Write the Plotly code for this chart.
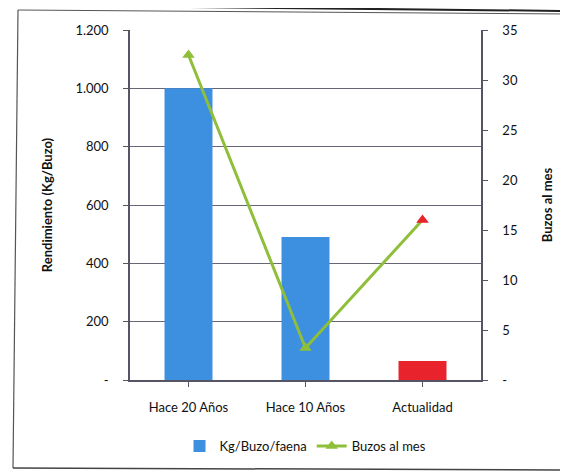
import plotly.graph_objects as go

categories = ["Hace 20 Años", "Hace 10 Años", "Actualidad"]
kg_buzo = [1000, 490, 65]
buzos_mes = [32.5, 3.2, 16]
bar_colors = ["#3d8fe0", "#3d8fe0", "#e8232b"]
left_ticks = [0, 200, 400, 600, 800, 1000, 1200]
left_labels = ["-", "200", "400", "600", "800", "1.000", "1.200"]
right_ticks = [0, 5, 10, 15, 20, 25, 30, 35]
right_labels = ["-", "5", "10", "15", "20", "25", "30", "35"]

font = "Lato, 'Open Sans', sans-serif"

fig = go.Figure()
fig.add_trace(go.Bar(
    x=categories, y=kg_buzo, name="Kg/Buzo/faena",
    marker=dict(color=bar_colors, line=dict(width=0)),
    width=0.41, yaxis="y",
))
fig.add_trace(go.Scatter(
    x=categories, y=buzos_mes, name="Buzos al mes", yaxis="y2",
    mode="lines+markers",
    line=dict(color="#8fbf3a", width=3),
    marker=dict(symbol="triangle-up", size=11,
                color=["#8fbf3a", "#8fbf3a", "#e8232b"]),
))

OFFX, OFFY = 8, 8  # page offset of the plot div
W, H = 568 - OFFX, 476 - OFFY
# plot area in screen coordinates
SL, SR, ST, SB = 130, 481, 30, 380
L, T = SL - OFFX, ST - OFFY
R = W - (SR - OFFX)
B = H - (SB - OFFY)
pw, ph = W - L - R, H - T - B

def px(x):
    return (x - OFFX - L) / pw

def py(y):
    return (H - B - (y - OFFY)) / ph

fig.update_layout(
    width=W, height=H,
    margin=dict(l=L, r=R, t=T, b=B, autoexpand=False),
    paper_bgcolor="white", plot_bgcolor="white",
    font=dict(family=font, size=13, color="#111111"),
    showlegend=True,
    legend=dict(orientation="h", x=0.5, xanchor="center", y=py(446), yanchor="middle",
                font=dict(size=13)),
    xaxis=dict(
        showline=True, linecolor="#555566", linewidth=1.5,
        ticks="outside", ticklen=5, tickcolor="#555566",
        showgrid=False, tickfont=dict(size=13), ticklabelstandoff=10,
    ),
    yaxis=dict(
        range=[0, 1200], tickvals=left_ticks, ticktext=left_labels,
        showline=True, linecolor="#555566", linewidth=1.5,
        ticks="outside", ticklen=5, tickcolor="#555566",
        showgrid=True, gridcolor="#666677", gridwidth=1,
        zeroline=False, ticklabelstandoff=12,
        title=dict(text="<b>Rendimiento (Kg/Buzo)</b>", font=dict(size=13), standoff=20),
    ),
    yaxis2=dict(
        range=[0, 35], tickvals=right_ticks, ticktext=right_labels,
        overlaying="y", side="right",
        showline=True, linecolor="#555566", linewidth=1.5,
        ticks="outside", ticklen=5, tickcolor="#555566",
        showgrid=False, zeroline=False, ticklabelstandoff=12,
        title=dict(text="<b>Buzos al mes</b>", font=dict(size=13), standoff=26),
    ),
    shapes=[
        dict(type="line", xref="paper", yref="paper",
             x0=px(0), x1=px(568), y0=py(5), y1=py(11),
             line=dict(color="#222222", width=2)),
        dict(type="line", xref="paper", yref="paper",
             x0=px(18), x1=px(568), y0=py(10), y1=py(14),
             line=dict(color="#555555", width=1)),
        dict(type="line", xref="paper", yref="paper",
             x0=px(18), x1=px(13), y0=py(10), y1=py(468),
             line=dict(color="#555555", width=1.2)),
        dict(type="line", xref="paper", yref="paper",
             x0=px(13), x1=px(568), y0=py(468), y1=py(470),
             line=dict(color="#444444", width=1.5)),
    ],
)

fig.write_html("out.html")
